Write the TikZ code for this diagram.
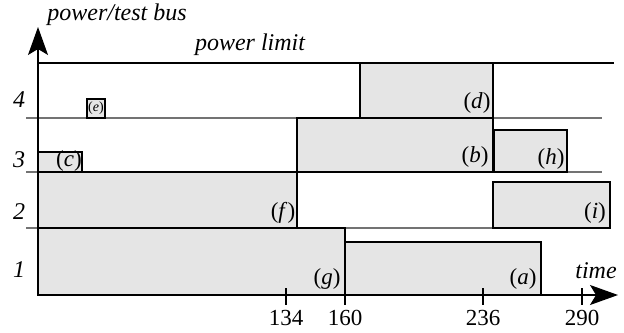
\documentclass[tikz,border=0pt]{standalone}
\usepackage{fontspec}
\setmainfont{Liberation Serif}
\usetikzlibrary{arrows.meta}
\begin{document}
\begin{tikzpicture}[x=0.5pt,y=-0.5pt,
  task/.style={draw=black,fill=black!10,line width=0.8pt},
  level/.style={draw=black!55,line width=0.8pt},
  axis/.style={draw=black,line width=0.6pt,-{Stealth[length=14pt,width=10pt,inset=3pt]}},
  lbl/.style={font=\fontsize{11.5}{13}\selectfont,inner sep=0pt},
  ax/.style={font=\fontsize{12}{14}\selectfont\itshape,inner sep=0pt},
  tick/.style={draw=black,line width=0.6pt}]
\useasboundingbox (0,0) rectangle (624,332);
% level separators of the test bus
\draw[level] (26,118) -- (602,118);
\draw[level] (26,172) -- (602,172);
\draw[level] (26,228) -- (602,228);
% power limit
\draw[black,line width=0.9pt] (38,63) -- (614,63);
% scheduled tests
\draw[task] (38,228) rectangle (345,295);
\draw[task] (345,242) rectangle (541,295);
\draw[task] (38,172) rectangle (297,228);
\draw[task] (38,152) rectangle (82,172);
\draw[task] (87,99) rectangle (105,118);
\draw[task] (297,118) rectangle (493,172);
\draw[task] (360,63) rectangle (493,118);
\draw[task] (494,130) rectangle (567,172);
\draw[task] (493,182) rectangle (610,228);
\node[lbl] (g) at (327,279) {(\textit{g})};
\node[lbl] (a) at (523,279) {(\textit{a})};
\node[lbl] (f) at (283,213) {(\textit{f\/})};
\node[lbl] (c) at (69,161) {(\textit{c})};
\node[lbl,font=\fontsize{7}{8}\selectfont] (e) at (96,108) {(\textit{e})};
\node[lbl] (b) at (475,157) {(\textit{b})};
\node[lbl] (d) at (477,103) {(\textit{d})};
\node[lbl] (h) at (551,159) {(\textit{h})};
\node[lbl] (i) at (595,213) {(\textit{i})};
% axes
\coordinate (o) at (38,295);
\coordinate (ytip) at (38,27);
\coordinate (xtip) at (618,295);
\draw[axis] (o) -- (ytip);
\draw[axis] (o) -- (xtip);
% time ticks
\foreach \x/\t in {286/134,345/160,483/236,582/290}{
  \draw[tick] (\x,288) -- (\x,305);
  \node[lbl] (t\t) at (\x,318) {\t};
}
% axis labels
\node[ax,anchor=west] (ylab) at (47,15) {power/test bus};
\node[ax] (plim) at (250,45) {power limit};
\node[ax] (xlab) at (596,271) {time};
\foreach \y/\n in {100/4,160/3,212/2,270/1}
  \node[ax] (l\n) at (19,\y) {\n};
\end{tikzpicture}
\end{document}
